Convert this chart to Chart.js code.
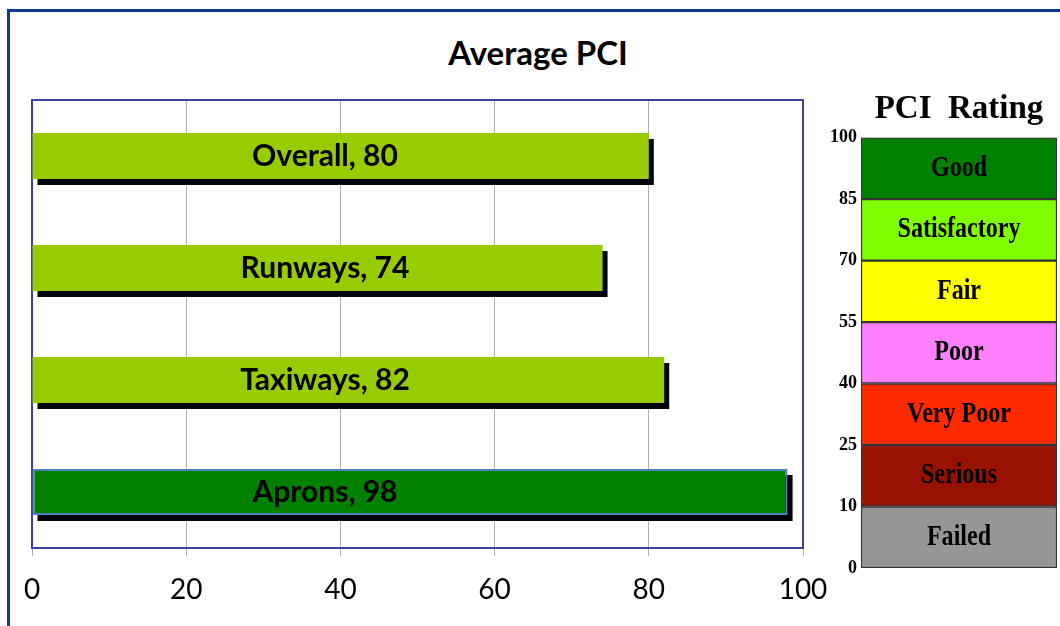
<!DOCTYPE html>
<html>
<head>
<meta charset="utf-8">
<title>Average PCI</title>
<script src="https://cdn.jsdelivr.net/npm/chart.js@4"></script>
<style>
  html, body { margin: 0; padding: 0; background: #fff; overflow: hidden; }
  #wrap { position: relative; width: 1060px; height: 626px; }
  #frame { position: absolute; left: 7px; top: 9px; width: 1200px; height: 800px;
           border-top: 3px solid #0d3b94; border-left: 3px solid #0d3b94; }
  #title { position: absolute; left: 0; top: 32px; width: 1076px; text-align: center;
           font: bold 33px Lato, sans-serif; line-height: 40px; color: #000; }
  #pci { position: absolute; left: 0; top: 0; }
  #rating { position: absolute; left: 820px; top: 80px; }
</style>
</head>
<body>
<div id="wrap">
  <div id="frame"></div>
  <div id="title">Average PCI</div>
  <canvas id="pci" width="830" height="626"></canvas>
  <canvas id="rating" width="240" height="546"></canvas>
</div>
<script>
// pavement areas and their average PCI
const categories = ['Overall', 'Runways', 'Taxiways', 'Aprons'];
const pciValues = [80, 74, 82, 98];
const barColors = ['#99cc00', '#99cc00', '#99cc00', '#008000'];
const xTicks = [0, 20, 40, 60, 80, 100];

// PCI rating scale, bottom to top
const ratingBounds = [0, 10, 25, 40, 55, 70, 85, 100];
const ratingNames = ['Failed', 'Serious', 'Very Poor', 'Poor', 'Fair', 'Satisfactory', 'Good'];
const ratingColors = ['#969696', '#991100', '#ff2a00', '#ff80ff', '#ffff00', '#80ff00', '#008000'];

// black drop shadow behind each bar + plot frame
const shadowPlugin = {
    id: 'shadow',
    beforeDatasetsDraw(chart) {
        const ctx = chart.ctx;
        const a = chart.chartArea;
        ctx.save();
        ctx.strokeStyle = '#4040a0';
        ctx.lineWidth = 2;
        ctx.strokeRect(a.left, a.top, a.right - a.left, a.bottom - a.top);
        ctx.fillStyle = '#000';
        chart.getDatasetMeta(0).data.forEach(bar => {
            const p = bar.getProps(['x', 'y', 'base', 'height'], true);
            ctx.fillRect(p.base + 5, p.y - p.height / 2 + 6, p.x - p.base, p.height);
        });
        ctx.restore();
    },
    afterDatasetsDraw(chart) {
        const ctx = chart.ctx;
        const xs = chart.scales.x;
        ctx.save();
        ctx.font = 'bold 30px Lato, sans-serif';
        ctx.fillStyle = '#000';
        ctx.textAlign = 'center';
        ctx.textBaseline = 'middle';
        chart.getDatasetMeta(0).data.forEach((bar, i) => {
            ctx.fillText(categories[i] + ', ' + pciValues[i], xs.getPixelForValue(38), bar.y);
        });
        ctx.restore();
    }
};

new Chart(document.getElementById('pci'), {
    type: 'bar',
    data: {
        labels: categories,
        datasets: [{
            data: pciValues,
            backgroundColor: barColors,
            borderColor: '#4f81bd',
            borderWidth: [0, 0, 0, 2],
            borderSkipped: false,
            barPercentage: 0.41,
            categoryPercentage: 1
        }]
    },
    options: {
        indexAxis: 'y',
        responsive: false,
        animation: false,
        layout: { padding: { left: 32, right: 27, top: 100, bottom: 0 } },
        plugins: { legend: { display: false }, tooltip: { enabled: false } },
        scales: {
            y: { display: false },
            x: {
                min: 0,
                max: 100,
                afterBuildTicks: s => { s.ticks = xTicks.map(v => ({ value: v })); },
                afterFit: s => { s.height = 78; s.paddingLeft = 0; s.paddingRight = 0; },
                border: { display: false },
                grid: { color: '#b0b0b0', tickLength: 8 },
                ticks: { color: '#000', padding: 17, font: { family: 'Lato', size: 28 } }
            }
        }
    },
    plugins: [shadowPlugin]
});

// band names written inside the rating scale
const bandLabels = {
    id: 'bandLabels',
    afterDatasetsDraw(chart) {
        const ctx = chart.ctx;
        ctx.save();
        ctx.font = 'bold 29px "Liberation Serif", serif';
        ctx.fillStyle = '#000';
        ctx.textAlign = 'center';
        ctx.textBaseline = 'middle';
        chart.data.datasets.forEach((ds, i) => {
            const bar = chart.getDatasetMeta(i).data[0];
            ctx.save();
            ctx.translate(bar.x, (bar.y + bar.base) / 2);
            ctx.scale(0.83, 1);
            ctx.fillText(ratingNames[i], 0, 0);
            ctx.restore();
        });
        ctx.restore();
    }
};

new Chart(document.getElementById('rating'), {
    type: 'bar',
    data: {
        labels: [''],
        datasets: ratingNames.map((name, i) => ({
            label: name,
            data: [[i, i + 1]],
            backgroundColor: ratingColors[i],
            borderColor: '#333',
            borderWidth: 1.5,
            borderSkipped: false,
            barPercentage: 1,
            categoryPercentage: 1,
            grouped: false
        }))
    },
    options: {
        responsive: false,
        animation: false,
        layout: { padding: { left: 0, right: 3, top: 0, bottom: 58 } },
        plugins: {
            legend: { display: false },
            tooltip: { enabled: false },
            title: {
                display: true,
                text: 'PCI  Rating',
                fullSize: false,
                color: '#000',
                font: { family: '"Liberation Serif", serif', size: 33, weight: 'bold' },
                padding: { top: 10, bottom: 8 }
            }
        },
        scales: {
            x: { display: false },
            y: {
                min: 0,
                max: ratingBounds.length - 1,
                afterFit: s => { s.width = 41; },
                border: { display: false },
                grid: { display: false, drawTicks: false },
                ticks: {
                    stepSize: 1,
                    autoSkip: false,
                    padding: 4,
                    color: '#000',
                    font: { family: '"Liberation Serif", serif', size: 18, weight: 'bold' },
                    callback: v => ratingBounds[v]
                }
            }
        }
    },
    plugins: [bandLabels]
});
</script>
</body>
</html>
